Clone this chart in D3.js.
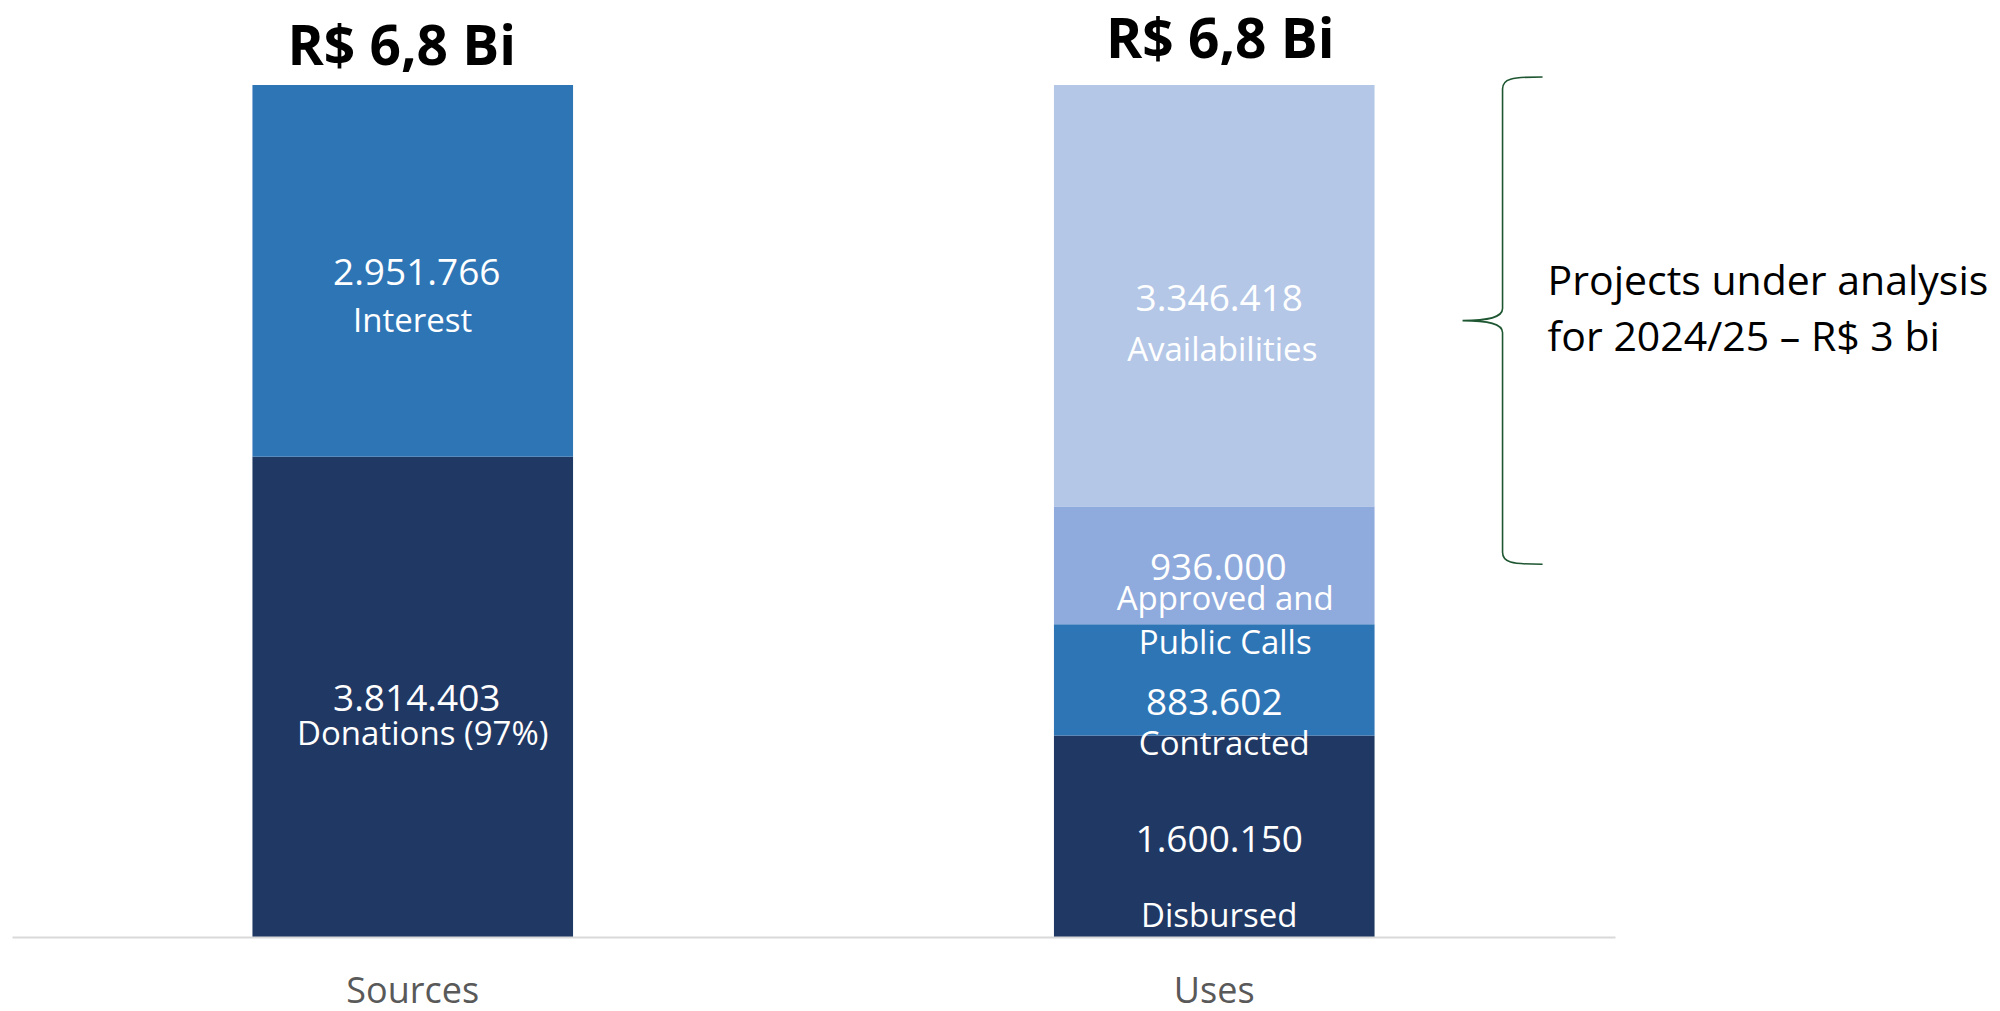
<!DOCTYPE html>
<html>
<head>
<meta charset="utf-8">
<script src="https://cdn.jsdelivr.net/npm/d3@7"></script>
<style>
  body { margin: 0; background: #fff; }
  text { font-family: "Open Sans", sans-serif; }
  .axis path { stroke: #d9d9d9; stroke-width: 2; }
  .axis text { fill: #595959; font-size: 36px; font-family: "Open Sans", sans-serif; }
</style>
</head>
<body>
<div id="chart"></div>
<script>
// values in R$ thousands
const categories = ["Sources", "Uses"];
const sourceNames = ["Donations (97%)", "Interest"];
const sourceValues = [3814403, 2951766];
const useNames = ["Disbursed", "Contracted", "Approved and|Public Calls", "Availabilities"];
const useValues = [1600150, 883602, 936000, 3346418];
const braceText = ["Projects under analysis", "for 2024/25 – R$ 3 bi"];
const braceRange = [2960000, 6830000];

// label placement: [value dx, value dy, name dx, name dy] from segment centre
const sourceLabelPos = [[4, 14, 10, 48], [4, 14, 0, 61]];
const useLabelPos = [[5, 16, 5, 91], [0, 35, 10, 75], [4, 15, 11, 45], [5, 15, 8, 65]];
const shadeDark = ["#203864", "#2e75b6"];
const shadeUses = ["#203864", "#2e75b6", "#8faadc", "#b4c7e7"];

const width = 2000;
const height = 1011;

const ptBR = d3.formatLocale({ decimal: ",", thousands: ".", grouping: [3], currency: ["R$ ", ""] });
const fmt = ptBR.format(",d");
const fmtBi = ptBR.format(".1f");

function stackUp(names, values, colors, labelPos) {
  let acc = 0;
  return values.map((v, i) => {
    const d = { name: names[i], value: v, y0: acc, y1: acc + v, color: colors[i], pos: labelPos[i] };
    acc += v;
    return d;
  });
}

const columns = [
  { cat: "Sources", segs: stackUp(sourceNames, sourceValues, shadeDark, sourceLabelPos), titleDx: -11, titleY: 65 },
  { cat: "Uses", segs: stackUp(useNames, useValues, shadeUses, useLabelPos), titleDx: 6, titleY: 58 }
];

const total = d3.max(columns, c => d3.sum(c.segs, s => s.value));

const x = d3.scaleBand()
  .domain(categories)
  .range([12, 1615])
  .paddingInner(0.6)
  .paddingOuter(0.3);

const y = d3.scaleLinear()
  .domain([0, total])
  .range([937, 85]);

const svg = d3.select("#chart")
  .append("svg")
  .attr("width", width)
  .attr("height", height);

const col = svg.selectAll(".col")
  .data(columns)
  .enter()
  .append("g")
  .attr("class", "col");

col.selectAll("rect")
  .data(c => c.segs.map(s => Object.assign({ cat: c.cat }, s)))
  .enter()
  .append("rect")
  .attr("x", d => x(d.cat))
  .attr("width", x.bandwidth())
  .attr("y", d => y(d.y1))
  .attr("height", d => y(d.y0) - y(d.y1))
  .attr("fill", d => d.color);

// segment labels
col.each(function(c) {
  const g = d3.select(this);
  const cx = x(c.cat) + x.bandwidth() / 2;
  c.segs.forEach(s => {
    const cy = (y(s.y0) + y(s.y1)) / 2;
    g.append("text")
      .attr("x", cx + s.pos[0])
      .attr("y", cy + s.pos[1])
      .attr("text-anchor", "middle")
      .attr("fill", "#fff")
      .style("font-size", "37px")
      .text(fmt(s.value));
    const lines = s.name.split("|");
    lines.forEach((ln, k) => {
      g.append("text")
        .attr("x", cx + s.pos[2])
        .attr("y", cy + s.pos[3] + k * 44)
        .attr("text-anchor", "middle")
        .attr("fill", "#fff")
        .style("font-size", "33px")
        .text(ln);
    });
  });
  g.append("text")
    .attr("x", cx + c.titleDx)
    .attr("y", c.titleY)
    .attr("text-anchor", "middle")
    .attr("fill", "#000")
    .style("font-size", "55px")
    .style("font-weight", "bold")
    .text("R$ " + fmtBi(d3.sum(c.segs, s => s.value) / 1e6) + " Bi");
});

svg.append("g")
  .attr("class", "axis")
  .attr("transform", "translate(0,937)")
  .call(d3.axisBottom(x).tickSize(0).tickPadding(40))
  .call(g => g.selectAll(".tick text").attr("font-size", null).attr("font-family", null));

// curly brace next to the Uses column
const spine = x("Uses") + x.bandwidth() + 128;
const bTop = y(braceRange[1]);
const bBot = y(braceRange[0]);
const bMid = (bTop + bBot) / 2;
const r = 12;
const bracePath = [
  "M", spine + 40, bTop,
  "C", spine + 8, bTop, spine, bTop + 2, spine, bTop + r,
  "L", spine, bMid - r,
  "C", spine, bMid - 3, spine - 14, bMid, spine - 40, bMid,
  "C", spine - 14, bMid, spine, bMid + 3, spine, bMid + r,
  "L", spine, bBot - r,
  "C", spine, bBot - 2, spine + 8, bBot, spine + 40, bBot
].join(" ");

svg.append("path")
  .attr("d", bracePath)
  .attr("fill", "none")
  .attr("stroke", "#1e5631")
  .attr("stroke-width", 1.6);

svg.selectAll(".brace-label")
  .data(braceText)
  .enter()
  .append("text")
  .attr("class", "brace-label")
  .attr("x", spine + 45)
  .attr("y", (d, i) => bMid - 26 + i * 56)
  .attr("fill", "#000")
  .style("font-size", "41px")
  .text(d => d);
</script>
</body>
</html>
